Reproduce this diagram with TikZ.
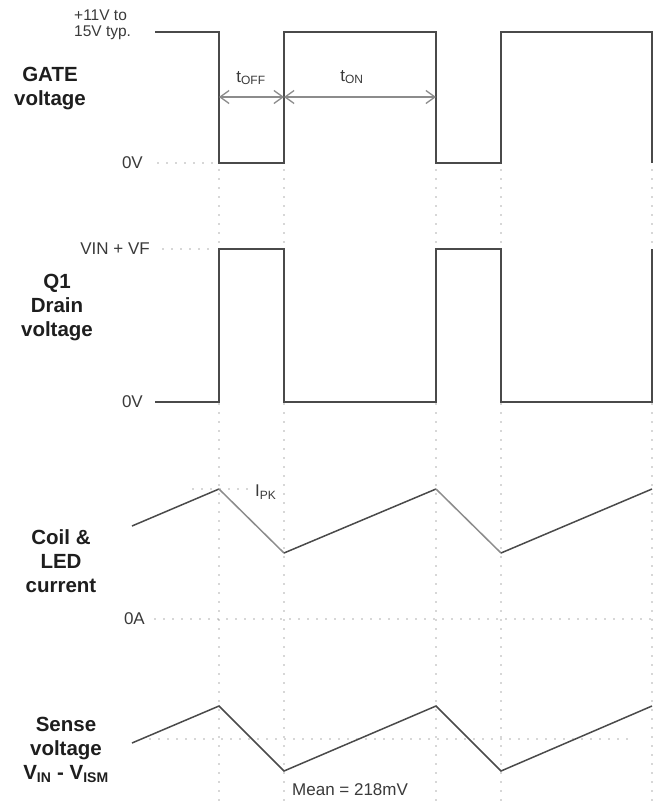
\documentclass[tikz,border=0pt]{standalone}
\usepackage{fontspec}
\setmainfont{Liberation Sans}
\usetikzlibrary{arrows.meta}
\definecolor{wave}{HTML}{4A4A4A}
\definecolor{wavelt}{HTML}{8C8C8C}
\definecolor{guide}{HTML}{555555}
\definecolor{txt}{HTML}{3A3A3A}
\definecolor{big}{HTML}{1E1E1E}
\tikzset{
  wf/.style={draw=wave, line width=1.5pt, line join=miter},
  wflt/.style={draw=wavelt, line width=1.5pt},
  guideline/.style={draw=guide, line width=1.4pt, line cap=round, dash pattern=on 0pt off 9pt},
  sig/.style={font=\fontsize{20.5}{24}\selectfont\bfseries, text=big, align=center, inner sep=0pt},
  lab/.style={font=\fontsize{17}{19}\selectfont, text=txt, inner sep=0pt},
  dim/.style={draw=wavelt, line width=1.3pt, {Straight Barb[length=9pt,width=13pt]}-{Straight Barb[length=9pt,width=13pt]}}
}
\begin{document}
\begin{tikzpicture}[x=1pt,y=-1pt]
\useasboundingbox[fill=white] (0,0) rectangle (660,806);

% vertical guide lines
\foreach \xx in {219,284,436,501,652}
  \draw[guideline] (\xx,170) -- (\xx,806);

% horizontal guide lines
\draw[guideline] (158,163) -- (212,163);
\draw[guideline] (163,249) -- (212,249);
\draw[guideline] (193,489) -- (250,489);
\draw[guideline] (155,619) -- (652,619);
\draw[guideline] (150,739) -- (627,739);

% GATE voltage waveform
\draw[wf] (155,32) -- (219,32) -- (219,163) -- (284,163) -- (284,32) -- (436,32)
  -- (436,163) -- (501,163) -- (501,32) -- (652,32) -- (652,163);

% Q1 Drain voltage waveform
\draw[wf] (155,402) -- (219,402) -- (219,249) -- (284,249) -- (284,402) -- (436,402)
  -- (436,249) -- (501,249) -- (501,402) -- (652,402) -- (652,249);

% Coil & LED current
\draw[wf] (132,526) -- (219,489);
\draw[wflt] (219,489) -- (284,553);
\draw[wf] (284,553) -- (436,489);
\draw[wflt] (436,489) -- (501,553);
\draw[wf] (501,553) -- (652,489);

% Sense voltage
\draw[wf] (132,743) -- (219,706) -- (284,771) -- (436,706) -- (501,771) -- (652,706);

% timing arrows
\coordinate (offL) at (219,97);
\coordinate (offR) at (284,97);
\coordinate (onR) at (436,97);
\draw[dim] (offL) -- (offR);
\draw[dim] (offR) -- (onR);
\node[lab] (toff) at (251,78) {t\textsubscript{\fontsize{12}{14}\selectfont OFF}};
\node[lab] (ton) at (352,77) {t\textsubscript{\fontsize{12}{14}\selectfont ON}};

% signal names
\node[sig] (gate) at (50,88.5) {GATE\\voltage};
\node[sig, align=center] (drain) at (57,308) {Q1\\Drain\\voltage};
\node[sig] (coil) at (61,561) {Coil \&\\LED\\current};
\node[sig] (sense) at (66,750) {Sense\\voltage\\V\textsubscript{\fontsize{14}{16}\selectfont IN} - V\textsubscript{\fontsize{14}{16}\selectfont ISM}};

% level labels
\node[lab, anchor=west, font=\fontsize{15.5}{17}\selectfont] (hi1) at (74,15) {+11V to};
\node[lab, anchor=west, font=\fontsize{15.5}{17}\selectfont] (hi2) at (74,33) {15V typ.};
\node[lab, anchor=east] (g0) at (143,163) {0V};
\node[lab, anchor=east] (dvf) at (150,249) {VIN + VF};
\node[lab, anchor=east] (d0) at (143,402) {0V};
\node[lab, anchor=west] (ipk) at (255,492) {I\textsubscript{\fontsize{12}{14}\selectfont PK}};
\node[lab, anchor=east] (c0) at (145,619) {0A};
\node[lab, anchor=west] (mean) at (292,790) {Mean = 218mV};
\end{tikzpicture}
\end{document}
